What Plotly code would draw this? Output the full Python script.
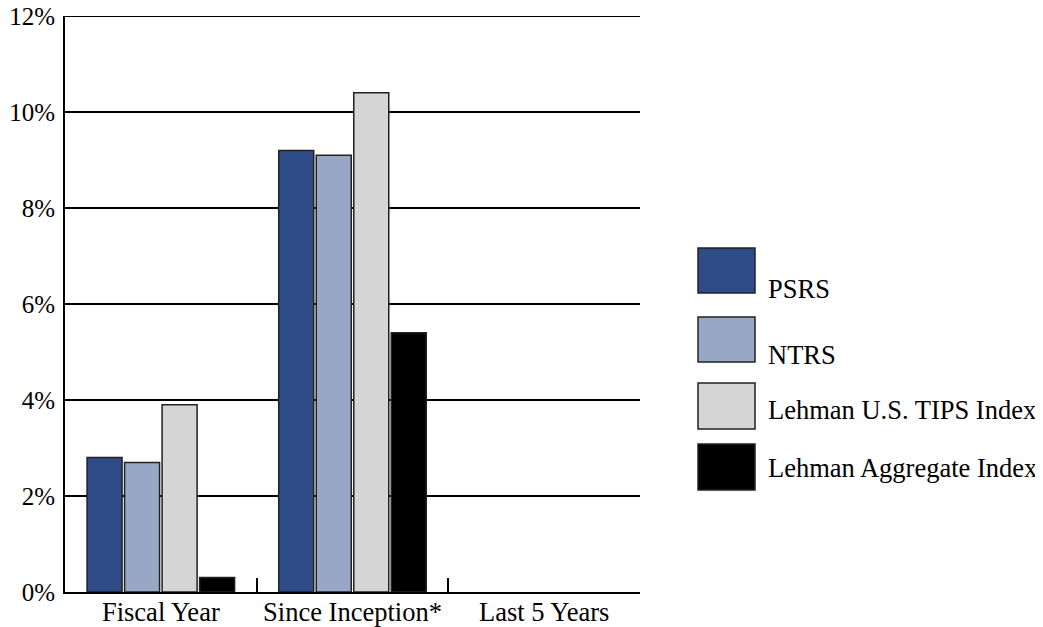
import plotly.graph_objects as go

categories = ["Fiscal Year", "Since Inception*", "Last 5 Years"]
series_names = ["PSRS", "NTRS", "Lehman U.S. TIPS Index", "Lehman Aggregate Index"]
psrs = [2.8, 9.2, None]
ntrs = [2.7, 9.1, None]
tips = [3.9, 10.4, None]
agg = [0.3, 5.4, None]
colors = ["#2F4C88", "#98A7C5", "#D5D5D5", "#000000"]
y_ticks = [0, 2, 4, 6, 8, 10, 12]
y_ticktext = ["0%", "2%", "4%", "6%", "8%", "10%", "12%"]

FONT = "Liberation Serif, Times New Roman, serif"
FS_X = 26.5
FS_Y = 25
FS_LEG = 26.5
OFF = 8  # page body margin
W, H = 1043 - OFF, 627 - OFF
# plot area in screen pixels: x 65..640, y 16..592
L, T = 65 - OFF, 16 - OFF
R = W - (640 - OFF)
B = H - (592 - OFF)
PW, PH = W - L - R, H - T - B

fig = go.Figure()
for name, vals, col in zip(series_names, [psrs, ntrs, tips, agg], colors):
    fig.add_trace(go.Bar(
        x=categories, y=vals, name=name, marker_color=col,
        marker_line_color="#222222", marker_line_width=1.5,
        showlegend=False,
    ))

def px2paper(xp, yp):
    # screen pixel -> paper coords
    return (xp - OFF - L) / PW, (H - B - (yp - OFF)) / PH

# manual legend (screen pixel positions)
legend_boxes = [(698, 248, 755, 293), (698, 317, 755, 362), (698, 383, 755, 429), (698, 444, 755, 490)]
legend_text_y = [289, 355, 410, 468]
shapes = []
annotations = []
for (x0, y0, x1, y1), ty, col, name in zip(legend_boxes, legend_text_y, colors, series_names):
    a0, b0 = px2paper(x0, y1)
    a1, b1 = px2paper(x1, y0)
    shapes.append(dict(type="rect", xref="paper", yref="paper", x0=a0, y0=b0, x1=a1, y1=b1,
                       fillcolor=col, line=dict(color="#222222", width=1.5)))
    tx, tyy = px2paper(766, ty)
    annotations.append(dict(xref="paper", yref="paper", x=tx, y=tyy, xanchor="left", yanchor="middle",
                            text=name, showarrow=False, font=dict(family=FONT, size=FS_LEG, color="#000")))

# top gridline at the range maximum
shapes.append(dict(type="line", xref="paper", yref="y", x0=0, x1=1, y0=y_ticks[-1], y1=y_ticks[-1],
                   line=dict(color="#000", width=2), layer="below"))

fig.update_layout(
    width=W, height=H,
    margin=dict(l=L, r=R, t=T, b=B, autoexpand=False),
    paper_bgcolor="white", plot_bgcolor="white",
    barmode="group", bargap=0.217, bargroupgap=0.067,
    font=dict(family=FONT, size=FS_X, color="#000"),
    shapes=shapes, annotations=annotations,
    xaxis=dict(
        showline=True, linecolor="#000", linewidth=2,
        tickson="boundaries", ticks="inside", ticklen=14, tickwidth=2, tickcolor="#000",
        showgrid=False, tickfont=dict(family=FONT, size=FS_X, color="#000"),
        range=[-0.5, 2.5], fixedrange=True, ticklabelstandoff=-5, ticklabeloverflow="allow",
    ),
    yaxis=dict(
        range=[0, 12], tickvals=y_ticks, ticktext=y_ticktext,
        showline=True, linecolor="#000", linewidth=2,
        showgrid=True, gridcolor="#000", gridwidth=2,
        ticks="", zeroline=False, ticklabelstandoff=3, ticklabeloverflow="allow",
        tickfont=dict(family=FONT, size=FS_Y, color="#000"),
    ),
)

fig.write_html("out.html")
